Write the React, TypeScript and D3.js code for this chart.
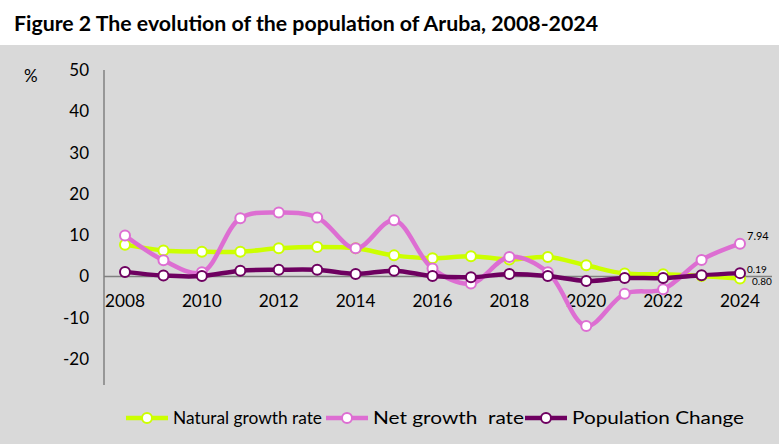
import React from "react";
import * as d3 from "d3";

const years = d3.range(2008, 2025);
const natural = [7.7, 6.3, 6.0, 6.0, 6.8, 7.1, 6.8, 5.1, 4.4, 4.9, 4.1, 4.7, 2.7, 0.7, 0.5, 0.1, -0.5];
const net = [9.9, 3.9, 1.0, 14.1, 15.5, 14.3, 6.8, 13.6, 1.9, -1.7, 4.7, 1.0, -12.0, -4.2, -3.1, 4.0, 7.94];
const pop = [1.1, 0.2, 0.1, 1.4, 1.6, 1.6, 0.6, 1.4, 0.1, -0.2, 0.6, 0.1, -1.1, -0.4, -0.4, 0.3, 0.8];
const yTicks = [50, 40, 30, 20, 10, 0, -10, -20];
const xTicks = [2008, 2010, 2012, 2014, 2016, 2018, 2020, 2022, 2024];

const series = [
  { name: "Natural growth rate", data: natural, color: "#ccff00" },
  { name: "Net growth\u00a0 rate", data: net, color: "#dd6ed2" },
  { name: "Population Change", data: pop, color: "#6e0060" },
];

export default function App() {
  const x = d3.scaleLinear().domain([2008, 2024]).range([125, 740]);
  const y = d3.scaleLinear().domain([-20, 50]).range([359, 70]);
  const line = d3.line<number>().x((_, i) => x(years[i])).y((d) => y(d)).curve(d3.curveCatmullRom.alpha(0.5));
  const font = "Lato, 'Liberation Sans', Arial, sans-serif";
  const legendX = [126, 326, 525];
  const legendW = [149, 151, 172];
  return (
    <svg width={779} height={444} style={{ position: "absolute", left: 0, top: 0 }} fontFamily={font}>
      <rect width={779} height={444} fill="#ffffff" />
      <rect x={0} y={45} width={779} height={399} fill="#d9d9d9" />
      <text x={14} y={31} fontSize={21} fontWeight="bold" fill="#000" textLength={584} lengthAdjust="spacingAndGlyphs">Figure 2 The evolution of the population of Aruba, 2008-2024</text>
      <text x={24} y={82} fontSize={17} fill="#000">%</text>
      <line x1={104} x2={104} y1={70} y2={385} stroke="#808080" strokeWidth={1.5} />
      <line x1={104} x2={772} y1={y(0)} y2={y(0)} stroke="#808080" strokeWidth={1.5} />
      {yTicks.map((t) => (
        <text key={t} x={89} y={y(t) + 6} fontSize={17} textAnchor="end">{t}</text>
      ))}
      {xTicks.map((t) => (
        <text key={t} x={x(t)} y={307} fontSize={17} textAnchor="middle" textLength={40} lengthAdjust="spacingAndGlyphs">{t}</text>
      ))}
      {series.map((s) => (
        <g key={s.name}>
          <path d={line(s.data) || ""} fill="none" stroke={s.color} strokeWidth={4.5} />
          {s.data.map((d, i) => (
            <circle key={i} cx={x(years[i])} cy={y(d)} r={5} fill="#fff" stroke={s.color} strokeWidth={2} />
          ))}
        </g>
      ))}
      <text x={747} y={240} fontSize={11}>7.94</text>
      <text x={747} y={273} fontSize={10}>0.19</text>
      <text x={752} y={285} fontSize={10}>0.80</text>
      {series.map((s, i) => (
        <g key={s.name}>
          <line x1={legendX[i]} x2={legendX[i] + 42} y1={418} y2={418} stroke={s.color} strokeWidth={4.5} />
          <circle cx={legendX[i] + 21} cy={418} r={5} fill="#fff" stroke={s.color} strokeWidth={2} />
          <text x={legendX[i] + 47} y={424} fontSize={17} textLength={legendW[i]} lengthAdjust="spacingAndGlyphs">{s.name}</text>
        </g>
      ))}
    </svg>
  );
}
